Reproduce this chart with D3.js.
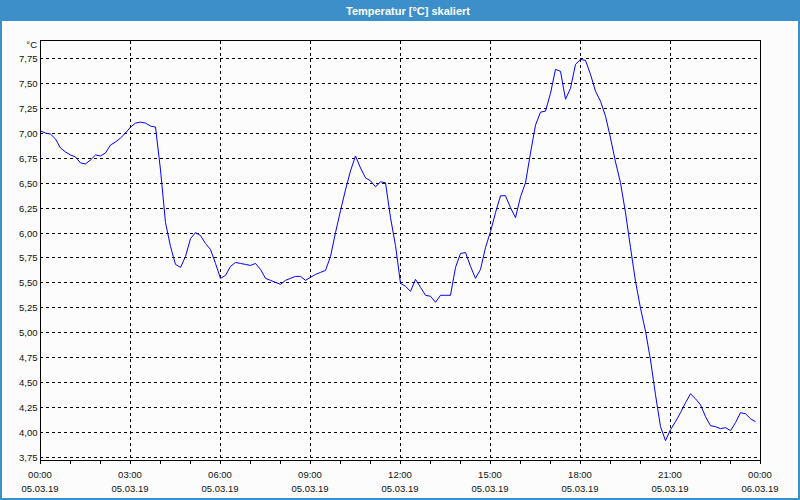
<!DOCTYPE html>
<html>
<head>
<meta charset="utf-8">
<script src="https://cdn.jsdelivr.net/npm/d3@7"></script>
<style>
html,body{margin:0;padding:0;background:#fbfcfb;}
svg{display:block;}
text{font-family:"Liberation Sans",Arial,sans-serif;}
</style>
</head>
<body>
<svg id="chart" width="800" height="500"></svg>
<script>
const title = "Temperatur [°C] skaliert";
const unitLabel = "°C";

const times = [
"00:00","00:10","00:20","00:30","00:40","00:50","01:00","01:10","01:20","01:30","01:40","01:50",
"02:00","02:10","02:20","02:30","02:40","02:50","03:00","03:10","03:20","03:30","03:40","03:50",
"04:00","04:10","04:20","04:30","04:40","04:50","05:00","05:10","05:20","05:30","05:40","05:50",
"06:00","06:10","06:20","06:30","06:40","06:50","07:00","07:10","07:20","07:30","07:40","07:50",
"08:00","08:10","08:20","08:30","08:40","08:50","09:00","09:10","09:20","09:30","09:40","09:50",
"10:00","10:10","10:20","10:30","10:40","10:50","11:00","11:10","11:20","11:30","11:40","11:50",
"12:00","12:10","12:20","12:30","12:40","12:50","13:00","13:10","13:20","13:30","13:40","13:50",
"14:00","14:10","14:20","14:30","14:40","14:50","15:00","15:10","15:20","15:30","15:40","15:50",
"16:00","16:10","16:20","16:30","16:40","16:50","17:00","17:10","17:20","17:30","17:40","17:50",
"18:00","18:10","18:20","18:30","18:40","18:50","19:00","19:10","19:20","19:30","19:40","19:50",
"20:00","20:10","20:20","20:30","20:40","20:50","21:00","21:10","21:20","21:30","21:40","21:50",
"22:00","22:10","22:20","22:30","22:40","22:50","23:00","23:10","23:20","23:30","23:40","23:50"
];

const temps = [
7.02,7.00,6.99,6.94,6.85,6.81,6.78,6.76,6.70,6.69,6.73,6.78,
6.77,6.80,6.88,6.91,6.95,7.00,7.06,7.10,7.11,7.10,7.07,7.06,
6.63,6.10,5.86,5.68,5.65,5.76,5.94,6.00,5.97,5.89,5.83,5.69,
5.54,5.57,5.66,5.70,5.69,5.68,5.67,5.69,5.63,5.54,5.52,5.50,
5.48,5.52,5.54,5.56,5.56,5.52,5.55,5.58,5.60,5.62,5.76,6.00,
6.22,6.43,6.62,6.77,6.65,6.55,6.52,6.46,6.51,6.50,6.15,5.87,
5.49,5.46,5.41,5.53,5.45,5.37,5.36,5.30,5.37,5.37,5.37,5.65,
5.79,5.80,5.66,5.54,5.63,5.85,6.01,6.20,6.37,6.37,6.25,6.15,
6.36,6.50,6.80,7.08,7.21,7.22,7.40,7.64,7.62,7.34,7.45,7.69,
7.74,7.73,7.59,7.42,7.32,7.17,6.95,6.71,6.50,6.20,5.85,5.51,
5.24,5.01,4.72,4.37,4.05,3.91,4.02,4.10,4.19,4.29,4.38,4.33,
4.27,4.15,4.06,4.05,4.03,4.04,4.01,4.09,4.19,4.18,4.13,4.10
];

const startDay = "2019-03-05";
const yTicks = [3.75,4.00,4.25,4.50,4.75,5.00,5.25,5.50,5.75,6.00,6.25,6.50,6.75,7.00,7.25,7.50,7.75];
const xTickTimes = ["00:00","03:00","06:00","09:00","12:00","15:00","18:00","21:00","00:00"];
const xTickDates = ["05.03.19","05.03.19","05.03.19","05.03.19","05.03.19","05.03.19","05.03.19","05.03.19","06.03.19"];

(function(){
const svg = d3.select("#chart");
const W = 800, H = 500;
const frameColor = "#3c8fc8";
const pL = 40, pR = 760, pT = 40.5, pB = 460.5;

svg.append("rect").attr("x",0).attr("y",0).attr("width",W).attr("height",H).attr("fill","#fbfcfb");
svg.append("rect").attr("x",0).attr("y",0).attr("width",W).attr("height",21).attr("fill",frameColor);
svg.append("rect").attr("x",0).attr("y",0).attr("width",2).attr("height",H).attr("fill",frameColor);
svg.append("rect").attr("x",W-2).attr("y",0).attr("width",2).attr("height",H).attr("fill",frameColor);
svg.append("rect").attr("x",0).attr("y",H-2).attr("width",W).attr("height",2).attr("fill",frameColor);
svg.append("text").attr("x",408).attr("y",11).attr("text-anchor","middle").attr("dominant-baseline","central")
  .attr("fill","#ffffff").attr("font-weight","bold").attr("font-size","11px").text(title);

const parse = d3.timeParse("%Y-%m-%d %H:%M");
const t0 = parse(startDay + " 00:00");
const t1 = d3.timeDay.offset(t0, 1);
const data = times.map((t,i)=>({date: parse(startDay + " " + t), v: temps[i]}));

const x = d3.scaleTime().domain([t0, t1]).range([pL, pR]);
const y = d3.scaleLinear().domain([3.71, 7.93]).range([pB, pT]);
const cy = v => Math.round(y(v)) + 0.5;
const cx = d => Math.round(x(d)) + 0.5;

svg.append("g").selectAll("line").data(yTicks).join("line")
  .attr("x1", pL).attr("x2", pR).attr("y1", cy).attr("y2", cy)
  .attr("stroke","#000").attr("stroke-width",1).attr("stroke-dasharray","3,3")
  .attr("shape-rendering","crispEdges");

const gridTimes = d3.timeHour.every(3).range(t0, t1).slice(1);
svg.append("g").selectAll("line").data(gridTimes).join("line")
  .attr("x1", cx).attr("x2", cx).attr("y1", pT).attr("y2", pB)
  .attr("stroke","#000").attr("stroke-width",1).attr("stroke-dasharray","3,3")
  .attr("shape-rendering","crispEdges");

svg.append("line").attr("x1",pL).attr("x2",pR+0.5).attr("y1",pT).attr("y2",pT)
  .attr("stroke","#000").attr("shape-rendering","crispEdges");
svg.append("line").attr("x1",pR+0.5).attr("x2",pR+0.5).attr("y1",pT).attr("y2",pB)
  .attr("stroke","#000").attr("shape-rendering","crispEdges");

const yAxis = d3.axisLeft(y).tickValues(yTicks).tickSize(0).tickPadding(3)
  .tickFormat(d => d3.format(".2f")(d).replace(".", ","));
const gy = svg.append("g").attr("transform",`translate(${pL + 0.5},0)`).call(yAxis);
gy.select(".domain").attr("stroke","#000").attr("d", `M0,${pT}V${pB}`).attr("shape-rendering","crispEdges");
gy.selectAll(".tick").attr("transform", d => `translate(0,${cy(d)})`);
gy.selectAll("text").attr("font-size","9.5px").attr("fill","#111").attr("font-family","Liberation Sans, Arial, sans-serif");

svg.append("text").attr("x",37).attr("y",44).attr("text-anchor","end").attr("dominant-baseline","central")
  .attr("font-size","9.5px").attr("fill","#111").text(unitLabel);

const xAxis = d3.axisBottom(x).ticks(d3.timeHour.every(1)).tickSize(3).tickFormat("");
const gx = svg.append("g").attr("transform",`translate(0,${pB})`).call(xAxis);
gx.select(".domain").attr("stroke","#000").attr("d", `M${pL},0H${pR+0.5}`).attr("shape-rendering","crispEdges");
gx.selectAll(".tick").attr("transform", d => `translate(${cx(d)},0)`);
gx.selectAll(".tick line").attr("stroke","#000").attr("shape-rendering","crispEdges");

const labelTimes = d3.timeHour.every(3).range(t0, d3.timeMinute.offset(t1,1));
const lbl = svg.append("g").selectAll("g").data(labelTimes).join("g")
  .attr("transform", d => `translate(${x(d)},0)`);
lbl.append("text").attr("y",474).attr("text-anchor","middle").attr("dominant-baseline","central")
  .attr("font-size","9.5px").attr("fill","#111").text((d,i)=>xTickTimes[i]);
lbl.append("text").attr("y",488).attr("text-anchor","middle").attr("dominant-baseline","central")
  .attr("font-size","9.5px").attr("fill","#111").text((d,i)=>xTickDates[i]);

const line = d3.line().x(d => x(d.date) + 0.5).y(d => y(d.v));
svg.append("path").datum(data).attr("d", line).attr("fill","none")
  .attr("stroke","#0000ff").attr("stroke-width",1);
})();
</script>
</body>
</html>
